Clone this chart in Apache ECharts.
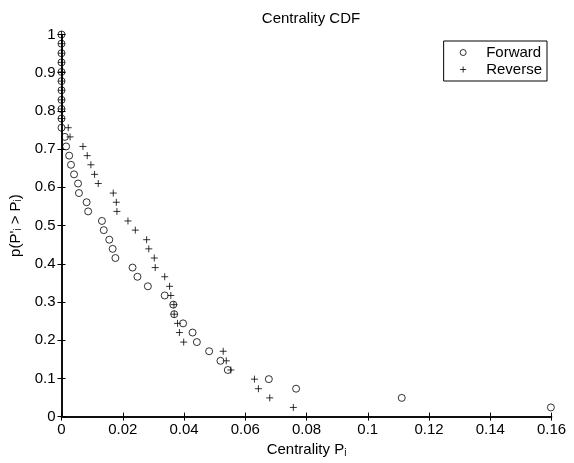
<!DOCTYPE html>
<html>
<head>
<meta charset="utf-8">
<script src="https://cdn.jsdelivr.net/npm/echarts@6/dist/echarts.min.js"></script>
<style>
html,body{margin:0;padding:0;background:#fff;}
#chart{width:574px;height:463px;}
</style>
</head>
<body>
<div id="chart"></div>
<script>
// p(P'_i > P_i) levels, top to bottom (41 nodes)
var cdfLevels=[1.000,0.976,0.951,0.927,0.902,0.878,0.854,0.829,0.805,0.780,
	0.756,0.732,0.707,0.683,0.659,0.634,0.610,0.585,0.561,0.537,
	0.512,0.488,0.463,0.439,0.415,0.390,0.366,0.341,0.317,0.293,
	0.268,0.244,0.220,0.195,0.171,0.146,0.122,0.098,0.073,0.049,0.024];

// centrality P_i, same order as cdfLevels
var forwardP=[0,0,0,0,0,0,0,0,0,0,
	0,0.0011,0.0015,0.0025,0.0031,0.0041,0.0054,0.0057,0.0082,0.0087,
	0.0132,0.0138,0.0156,0.0167,0.0176,0.0232,0.0248,0.0282,0.0337,0.0365,
	0.0368,0.0397,0.0428,0.0442,0.0482,0.0519,0.0543,0.0677,0.0766,0.1111,0.1598];

var reverseP=[0,0,0,0,0,0,0,0,0,0,
	0.0022,0.0028,0.0070,0.0084,0.0096,0.0108,0.0120,0.0169,0.0179,0.0181,
	0.0217,0.0241,0.0278,0.0285,0.0303,0.0306,0.0337,0.0353,0.0357,0.0367,
	0.0368,0.0379,0.0385,0.0399,0.0528,0.0538,0.0553,0.0630,0.0643,0.0680,0.0757];

var seriesNames=['Forward','Reverse'];

function pairs(xs){
	var out=[];
	for(var i=0;i<xs.length;i++){ out.push([xs[i],cdfLevels[i]]); }
	return out;
}

var font='"Liberation Sans", Arial, sans-serif';
var plusPath='path://M5,0L5,10M0,5L10,5';
var subStyle={fontSize:10,padding:[6,0,0,0],fontFamily:font,color:'#000'};

var chart=echarts.init(document.getElementById('chart'));
var option={
	backgroundColor:'#ffffff',
	animation:false,
	textStyle:{fontFamily:font,color:'#000'},
	title:{
		text:'Centrality CDF',
		left:306,
		textAlign:'center',
		top:6,
		textStyle:{fontSize:15,fontWeight:'normal',color:'#000',fontFamily:font}
	},
	legend:{
		right:27,
		top:41,
		orient:'vertical',
		backgroundColor:'#fff',
		borderColor:'#000',
		borderWidth:1,
		borderRadius:0,
		padding:[4,5,4,16],
		itemGap:2,
		itemWidth:36,
		itemHeight:6,
		itemStyle:{borderWidth:1},
		textStyle:{fontSize:15,color:'#000',fontFamily:font},
		data:seriesNames
	},
	grid:{left:61.5,right:22.5,top:34.5,bottom:41.5,containLabel:false},
	xAxis:[{
		type:'value',min:0,max:0.16,interval:0.02,
		name:'Centrality P{sub|i}',
		nameLocation:'middle',
		nameGap:17,
		nameTextStyle:{fontSize:15,color:'#000',fontFamily:font,rich:{sub:subStyle}},
		axisLine:{lineStyle:{color:'#000',width:1.5}},
		axisTick:{inside:true,length:4,lineStyle:{color:'#000'}},
		axisLabel:{fontSize:15,color:'#000',margin:6,fontFamily:font,
			formatter:function(v){return String(+v.toFixed(2));}},
		splitLine:{show:false}
	},{
		type:'value',min:0,max:0.16,interval:0.02,position:'top',
		axisLine:{lineStyle:{color:'#000',width:1.5}},
		axisTick:{inside:true,length:4,lineStyle:{color:'#000'}},
		axisLabel:{show:false},
		splitLine:{show:false}
	}],
	yAxis:[{
		type:'value',min:0,max:1,interval:0.1,
		name:"p(P'{sub|i} > P{sub|i})",
		nameLocation:'middle',
		nameGap:38,
		nameTextStyle:{fontSize:15,color:'#000',fontFamily:font,rich:{sub:subStyle}},
		axisLine:{lineStyle:{color:'#000',width:1.5}},
		axisTick:{inside:true,length:4,lineStyle:{color:'#000'}},
		axisLabel:{fontSize:15,color:'#000',margin:6,fontFamily:font,
			formatter:function(v){return String(+v.toFixed(1));}},
		splitLine:{show:false}
	},{
		type:'value',min:0,max:1,interval:0.1,position:'right',
		axisLine:{lineStyle:{color:'#000',width:1.5}},
		axisTick:{inside:true,length:4,lineStyle:{color:'#000'}},
		axisLabel:{show:false},
		splitLine:{show:false}
	}],
	series:[
		{
			name:seriesNames[0],
			type:'scatter',
			symbol:'circle',
			symbolSize:7,
			itemStyle:{color:'transparent',borderColor:'#000',borderWidth:1},
			data:pairs(forwardP)
		},
		{
			name:seriesNames[1],
			type:'scatter',
			symbol:plusPath,
			symbolSize:7,
			itemStyle:{color:'transparent',borderColor:'#000',borderWidth:1},
			data:pairs(reverseP)
		}
	]
};
chart.setOption(option);
</script>
</body>
</html>
